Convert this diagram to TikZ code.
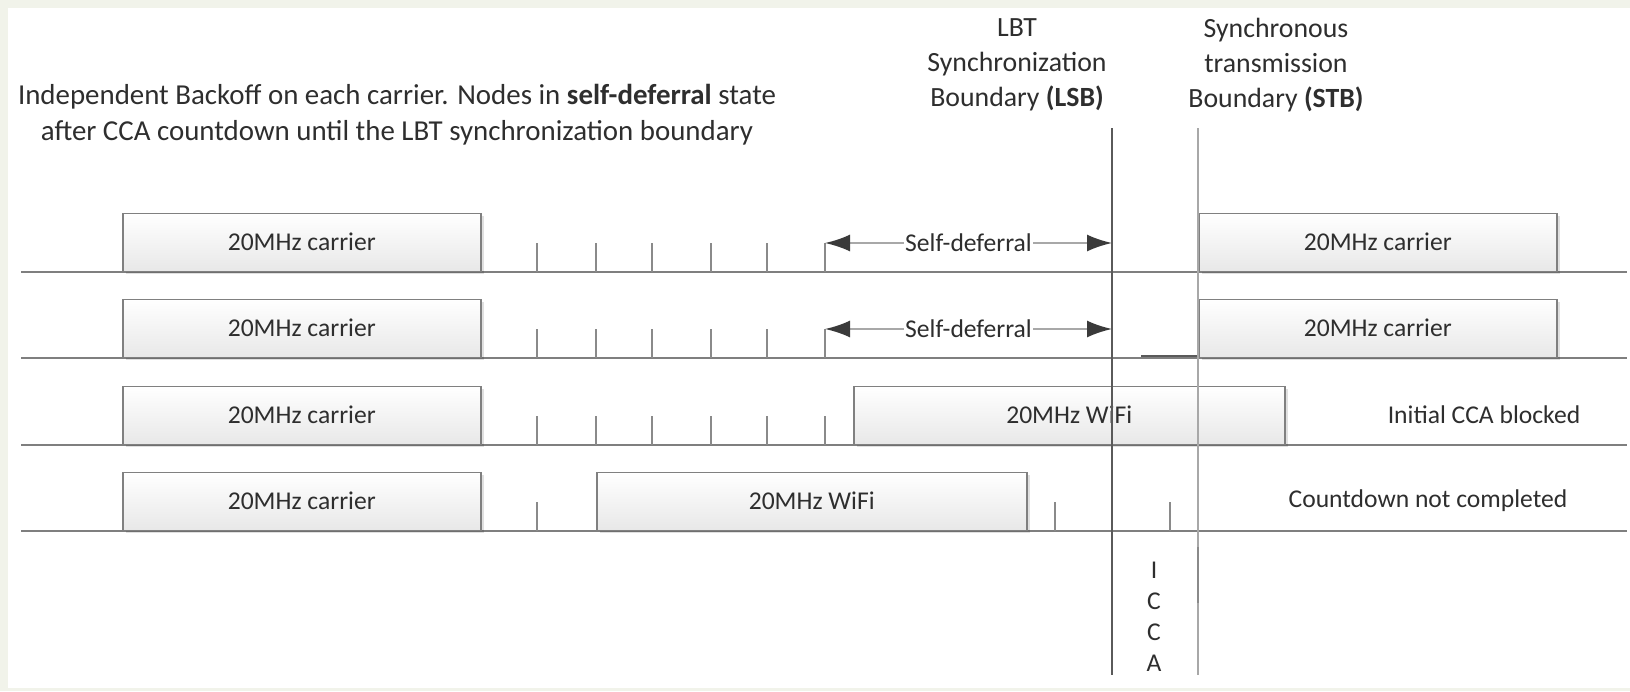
\documentclass[tikz,border=0pt]{standalone}
\usepackage{fontspec}
\setmainfont{Carlito}
\usetikzlibrary{arrows.meta,shadows}
\definecolor{framebg}{HTML}{F1F3EA}
\definecolor{linegray}{HTML}{7F7F7F}
\definecolor{tickgray}{HTML}{8A8A8A}
\definecolor{boxborder}{HTML}{808080}
\definecolor{boxbottom}{HTML}{E8E8E8}
\definecolor{txt}{HTML}{2E2E2E}
\definecolor{arrowdark}{HTML}{3A3A3A}
\definecolor{lsbcol}{HTML}{5A5A5A}
\definecolor{stbcol}{HTML}{A8A8A8}
\tikzset{
  cbox/.style={draw=boxborder, line width=1.5pt, top color=white, bottom color=boxbottom,
    minimum height=58pt, inner sep=0pt, anchor=south west,
    drop shadow={shadow xshift=3pt, shadow yshift=-3pt, fill=black, opacity=0.12}},
  baseln/.style={draw=linegray, line width=2pt},
  tickln/.style={draw=tickgray, line width=2pt},
  sdarrow/.style={draw=stbcol, line width=2pt,
    {Latex[length=25pt,width=17pt,color=arrowdark]}-{Latex[length=25pt,width=17pt,color=arrowdark]}},
  sdlabel/.style={fill=white, inner sep=1pt},
  plain/.style={inner sep=0pt, align=center},
  boundln/.style={line width=2pt}
}
\begin{document}
\begin{tikzpicture}[x=1pt, y=-1pt, font=\fontsize{25.6pt}{31pt}\selectfont, text=txt]
% frame and page
\fill[framebg] (0,0) rectangle (1630,691);
\fill[white] (8,8) rectangle (1630,688);
\useasboundingbox (0,0) rectangle (1630,691);

% titles
\node[plain, font=\fontsize{28.9pt}{36pt}\selectfont] (title) at (397,114.5)
  {Independent Backoff on each carrier. Nodes in \textbf{self-deferral} state\\after CCA countdown until the LBT synchronization boundary};
\node[plain, font=\fontsize{27.8pt}{35pt}\selectfont] (lsbtxt) at (1017,65)
  {LBT\\Synchronization\\Boundary \textbf{(LSB)}};
\node[plain, font=\fontsize{27.8pt}{35pt}\selectfont] (stbtxt) at (1276,65)
  {Synchronous\\transmission\\Boundary \textbf{(STB)}};

% baselines
\foreach \r/\y in {1/272,2/358,3/445,4/531}{
  \coordinate (bl\r) at (21,\y);
  \coordinate (br\r) at (1627,\y);
  \draw[baseln] (bl\r) -- (br\r);
}

% short segment on row 2
\coordinate (seg2l) at (1141,356);
\coordinate (seg2r) at (1254,356);
\draw[draw=lsbcol, line width=2pt] (seg2l) -- (seg2r);

% ticks
\foreach \y in {272,358,445}{
  \foreach \x in {537,596,652,711,767,825}{
    \coordinate (tb) at (\x,\y);
    \coordinate (tt) at (\x,\y-29);
    \draw[tickln] (tb) -- (tt);
  }
}
\foreach \x in {537,1055,1112,1170}{
  \coordinate (tb) at (\x,531);
  \coordinate (tt) at (\x,502);
  \draw[tickln] (tb) -- (tt);
}

% carrier boxes
\node[cbox, minimum width=358pt] (c1) at (122,272) {20MHz carrier};
\node[cbox, minimum width=358pt] (c2) at (122,358) {20MHz carrier};
\node[cbox, minimum width=358pt] (c3) at (122,445) {20MHz carrier};
\node[cbox, minimum width=358pt] (c4) at (122,531) {20MHz carrier};
\node[cbox, minimum width=358pt] (s1) at (1198,272) {20MHz carrier};
\node[cbox, minimum width=358pt] (s2) at (1198,358) {20MHz carrier};
\node[cbox, minimum width=431pt] (w3) at (853,445) {20MHz WiFi};
\node[cbox, minimum width=430pt] (w4) at (596,531) {20MHz WiFi};

% self-deferral arrows
\coordinate (a1l) at (825,243);
\coordinate (a1r) at (1112,243);
\draw[sdarrow] (a1l) -- node[sdlabel] (sd1) {Self-deferral} (a1r);
\coordinate (a2l) at (825,329);
\coordinate (a2r) at (1112,329);
\draw[sdarrow] (a2l) -- node[sdlabel] (sd2) {Self-deferral} (a2r);

% right-hand notes
\node[plain] (icb) at (1484,415) {Initial CCA blocked};
\node[plain] (cnc) at (1428,501) {Countdown not completed};

% ICCA
\node[plain, font=\fontsize{25.6pt}{31pt}\selectfont] (icca) at (1154,617) {I\\C\\C\\A};

% boundary lines
\coordinate (lsbtop) at (1112,128);
\coordinate (lsbbot) at (1112,675);
\draw[boundln, draw=lsbcol] (lsbtop) -- (lsbbot);
\coordinate (stbtop) at (1198,128);
\coordinate (stbbot) at (1198,675);
\coordinate (stbm1) at (1198,547);
\coordinate (stbm2) at (1198,603);
\draw[boundln, draw=stbcol] (stbtop) -- (stbbot);
\draw[boundln, draw=tickgray] (stbm1) -- (stbm2);
\end{tikzpicture}
\end{document}
